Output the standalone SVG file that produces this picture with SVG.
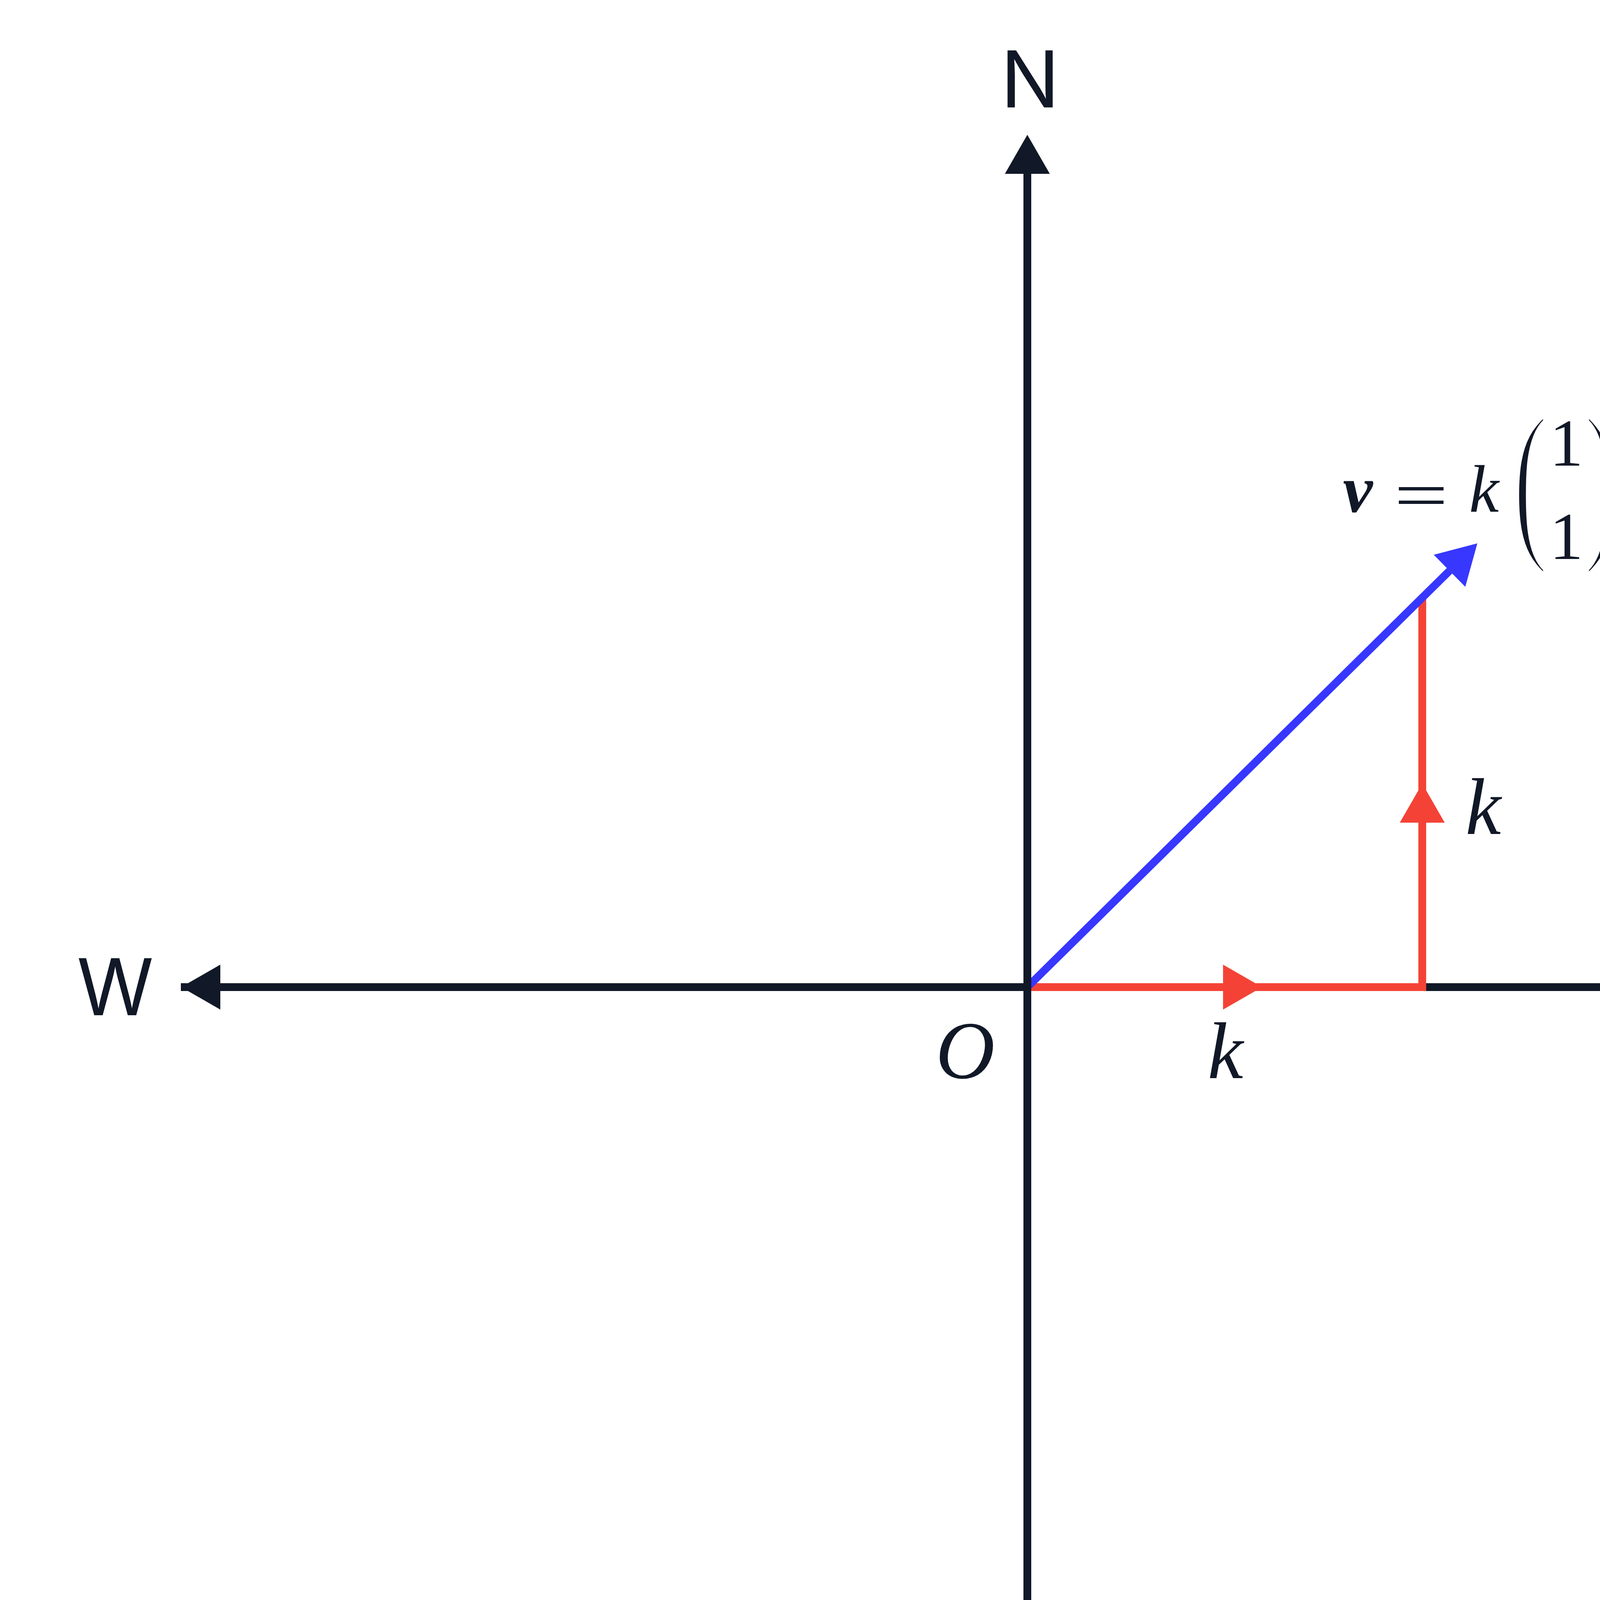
<svg xmlns="http://www.w3.org/2000/svg" xmlns:xlink="http://www.w3.org/1999/xlink" width="5200" height="5036" viewBox="0 0 5200 5036">
<style>
.axis{stroke:#111827;stroke-width:20;fill:none;stroke-linecap:butt}
.red{stroke:#F44336;stroke-width:20;fill:none;stroke-linejoin:miter}
.blue{stroke:#3737FF;stroke-width:20;fill:none}
.hd{fill:#111827}
.hr{fill:#F44336}
.hb{fill:#3737FF}
.lbl{font-family:Inter,"Liberation Sans",sans-serif;font-size:200px;fill:#111827;text-anchor:middle}
.m{font-family:"Liberation Serif","DejaVu Serif",serif;fill:#111827;font-style:italic}
.mr{font-family:"Liberation Serif","DejaVu Serif",serif;fill:#111827}
.paren{font-family:"Liberation Serif","DejaVu Serif",serif;fill:#111827;stroke:#ffffff;stroke-width:6;font-size:200px;text-anchor:middle}
</style>
<defs>
<path id="ah" d="M0,0 L-100,-57.5 L-100,57.5 Z"/>
</defs>
<rect width="5200" height="5036" fill="#ffffff"/>
<g id="connectors">
<path class="axis" d="M463,2527 H4712"/>
<path class="red" d="M2630,2527 H3641 V1531"/>
<path class="blue" d="M2630,2527 L3711,1461"/>
<path class="axis" d="M2630,444 V4609"/>
<use xlink:href="#ah" class="hd" transform="translate(2630,345) rotate(-90)"/>
<use xlink:href="#ah" class="hd" transform="translate(2630,4709) rotate(90)"/>
<use xlink:href="#ah" class="hd" transform="translate(464,2527) rotate(180)"/>
<use xlink:href="#ah" class="hd" transform="translate(4812,2527)"/>
<use xlink:href="#ah" class="hr" transform="translate(3231,2527)"/>
<use xlink:href="#ah" class="hr" transform="translate(3641,2006) rotate(-90)"/>
<use xlink:href="#ah" class="hb" transform="translate(3782,1391) rotate(-44.6)"/>
</g>
<g id="north"><text class="lbl" x="2637" y="275">N</text></g>
<g id="south"><text class="lbl" x="2638" y="4925">S</text></g>
<g id="west"><text class="lbl" x="295" y="2599">W</text></g>
<g id="east"><text class="lbl" x="4945" y="2599">E</text></g>
<g id="origin"><text class="m" x="2471" y="2760" font-size="210" text-anchor="middle">O</text></g>
<g id="k-horizontal"><text class="m" x="3137" y="2760" font-size="205" text-anchor="middle">k</text></g>
<g id="k-vertical"><text class="m" x="3797" y="2135" font-size="205" text-anchor="middle">k</text></g>
<g id="formula">
<text class="m" x="3476" y="1310" font-size="172" font-weight="bold" text-anchor="middle">v</text>
<text class="mr" transform="translate(3638,1326) scale(1.43,1)" x="0" y="0" font-size="172" text-anchor="middle">=</text>
<text class="m" x="3799" y="1310" font-size="172" text-anchor="middle">k</text>
<text class="paren" transform="translate(3918,1268) scale(1.35,2.28)" x="0" y="48">(</text>
<text class="mr" x="4010" y="1192" font-size="172" text-anchor="middle">1</text>
<text class="mr" x="4010" y="1431" font-size="172" text-anchor="middle">1</text>
<text class="paren" transform="translate(4100,1268) scale(1.35,2.28)" x="0" y="48">)</text>
</g>
</svg>
